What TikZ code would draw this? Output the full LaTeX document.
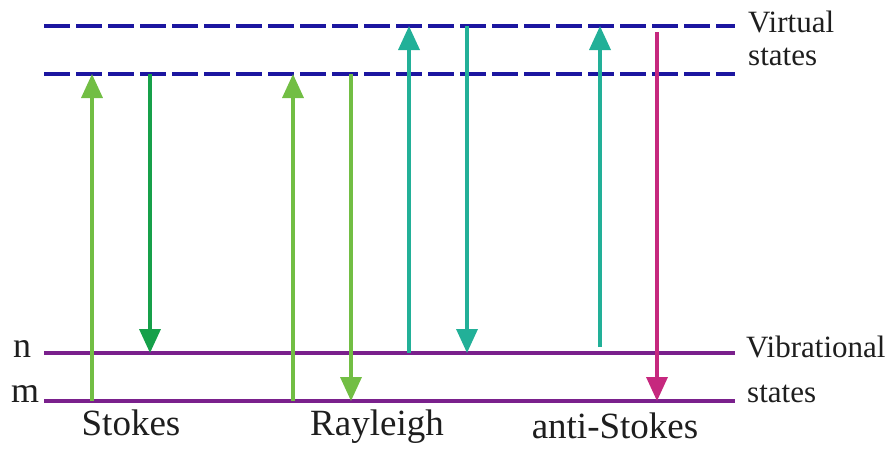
\documentclass[tikz,border=0pt]{standalone}
\usepackage{fontspec}
\setmainfont{Liberation Serif}
\usetikzlibrary{arrows.meta}
\definecolor{vblue}{RGB}{28,22,160}
\definecolor{vpurple}{RGB}{122,32,140}
\definecolor{lgreen}{RGB}{114,190,68}
\definecolor{dgreen}{RGB}{22,160,74}
\definecolor{teal2}{RGB}{34,176,152}
\definecolor{magen}{RGB}{198,40,126}
\definecolor{txt}{RGB}{30,30,30}
\tikzset{
  virt/.style={vblue, line width=4.5pt, dash pattern=on 26pt off 6pt},
  vib/.style={vpurple, line width=4.5pt},
  trans/.style={line width=3.5pt, -{Triangle[width=21pt,length=24pt]}},
  lbl/.style={anchor=base west, inner sep=0pt, text=txt, font=\fontsize{31}{34}\selectfont},
  blbl/.style={anchor=base, inner sep=0pt, text=txt, font=\fontsize{37}{40}\selectfont},
}
\begin{document}
\begin{tikzpicture}[x=1pt,y=-1pt]
\useasboundingbox (0,0) rectangle (893,448);
% level end points
\coordinate (v1L) at (44,26);  \coordinate (v1R) at (735,26);
\coordinate (v2L) at (44,74);  \coordinate (v2R) at (735,74);
\coordinate (nL) at (44,353);  \coordinate (nR) at (735,353);
\coordinate (mL) at (44,401);  \coordinate (mR) at (735,401);
\draw[virt] (v1L) -- (v1R);
\draw[virt] (v2L) -- (v2R);
\draw[vib] (nL) -- (nR);
\draw[vib] (mL) -- (mR);
% transition end points
\coordinate (s1a) at (92,401);  \coordinate (s1b) at (92,74);
\coordinate (s2a) at (150,74);  \coordinate (s2b) at (150,353);
\coordinate (r1a) at (293,401); \coordinate (r1b) at (293,74);
\coordinate (r2a) at (351,74);  \coordinate (r2b) at (351,401);
\coordinate (t1a) at (409,353); \coordinate (t1b) at (409,26);
\coordinate (t2a) at (467,26);  \coordinate (t2b) at (467,353);
\coordinate (a1a) at (600,347); \coordinate (a1b) at (600,26);
\coordinate (a2a) at (657,32);  \coordinate (a2b) at (657,401);
\draw[trans, lgreen] (s1a) -- (s1b);
\draw[trans, dgreen] (s2a) -- (s2b);
\draw[trans, lgreen] (r1a) -- (r1b);
\draw[trans, lgreen] (r2a) -- (r2b);
\draw[trans, teal2] (t1a) -- (t1b);
\draw[trans, teal2] (t2a) -- (t2b);
\draw[trans, teal2] (a1a) -- (a1b);
\draw[trans, magen] (a2a) -- (a2b);
% labels
\node[lbl] (virt1) at (748,32) {Virtual};
\node[lbl] (virt2) at (748,65) {states};
\node[lbl] (vib1) at (746,357) {Vibrational};
\node[lbl] (vib2) at (747,402) {states};
\node[lbl, font=\fontsize{36}{38}\selectfont] (nlab) at (13,357) {n};
\node[lbl, font=\fontsize{36}{38}\selectfont] (mlab) at (11,402) {m};
\node[blbl] (stokes) at (131,435) {Stokes};
\node[blbl] (rayl) at (377,435) {Rayleigh};
\node[blbl] (anti) at (615,438) {anti-Stokes};
\end{tikzpicture}
\end{document}
